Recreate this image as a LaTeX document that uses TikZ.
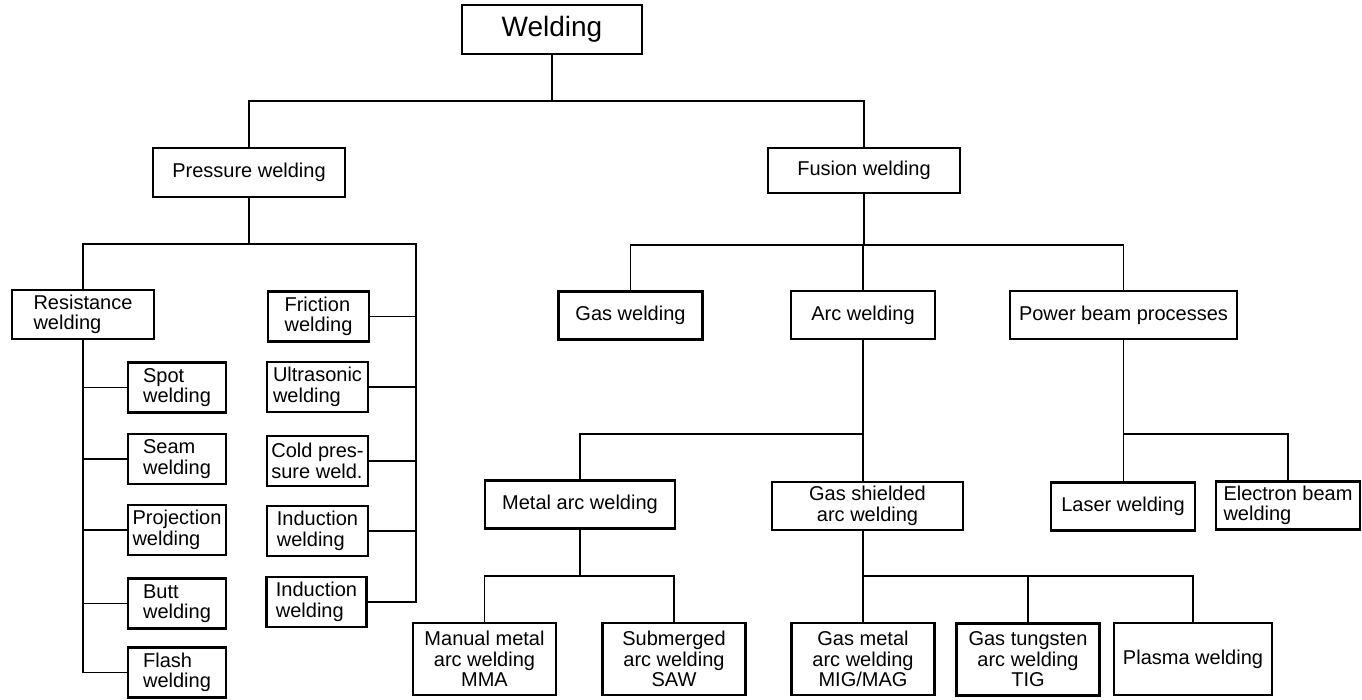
\documentclass[tikz,border=0pt]{standalone}
\usepackage{fontspec}
\setmainfont{Liberation Sans}
\usetikzlibrary{positioning}

\begin{document}
\begin{tikzpicture}[x=1pt,y=-1pt]
\tikzstyle{every node}=[draw,line width=2.1pt,inner sep=0pt,align=center,font=\fontsize{20}{20.5}\selectfont];
\tikzstyle{small}=[minimum width=98pt,minimum height=50pt,align=left];
\tikzstyle{mid}=[minimum width=144pt,minimum height=48pt];
\tikzstyle{low}=[minimum width=143pt,minimum height=72pt];
\tikzstyle{wire}=[line width=1.4pt];

\useasboundingbox (0,0) rectangle (1362,699);

% top levels
\node (w) at (552,29.5) [minimum width=180pt,minimum height=49pt,font=\fontsize{28}{30}\selectfont] {Welding};
\node (p) at (249,172.5) [minimum width=192pt,minimum height=49pt] {Pressure welding};
\node (f) at (864,170.5) [minimum width=192pt,minimum height=45pt] {Fusion welding};

% pressure welding
\node (r) at (83,314.5) [minimum width=142pt,minimum height=49pt,align=left] {Resistance\\welding};
\foreach \n/\y/\t in {1/387.5/Spot,2/459/Seam,3/530/Projection,4/603.5/Butt,5/672.5/Flash}
  \node[small] (r\n) at (177,\y) {\t\\welding};
\node[small,minimum width=101pt] (q1) at (318.5,316.5) {Friction\\welding};
\node[small,minimum width=101pt] (q2) at (317.5,387) {Ultrasonic\\welding};
\node[small,minimum width=101pt] (q3) at (317.5,461) {Cold pres-\\sure weld.};
\node[small,minimum width=101pt] (q4) at (317.5,531) {Induction\\welding};
\node[small,minimum width=100pt] (q5) at (316.5,602) {Induction\\welding};

% fusion welding
\node[mid] (g) at (630.5,315.5) {Gas welding};
\node[mid] (a) at (863,315) {Arc welding};
\node[mid,minimum width=227pt] (b) at (1123.5,315) {Power beam processes};
\node[mid,minimum width=190pt] (m) at (580,504.5) {Metal arc welding};
\node[mid,minimum width=191pt] (s) at (867.5,506) {Gas shielded\\arc welding};
\node[mid] (l) at (1123,506.5) {Laser welding};
\node[mid,align=left] (e) at (1288,505.5) {Electron beam\\welding};
\node[low] (m1) at (484.5,659) {Manual metal\\arc welding\\MMA};
\node[low] (m2) at (674,659) {Submerged\\arc welding\\SAW};
\node[low] (s1) at (863,659) {Gas metal\\arc welding\\MIG/MAG};
\node[low] (s2) at (1028,659.5) {Gas tungsten\\arc welding\\TIG};
\node[low,minimum width=158pt] (s3) at (1193,659) {Plasma welding};

% bus lines
\coordinate (b0) at (0,101);
\coordinate (b1) at (0,244);
\coordinate (b2) at (0,245);
\coordinate (b3) at (0,434);
\coordinate (b4) at (0,576);
\coordinate (qr) at (416,0);

\draw[wire] (w.south) -- (w.south |- b0)
  (p.north) |- (f.north |- b0) -- (f.north);

\draw[wire] (p.south) -- (p.south |- b1)
  (r.north) |- (qr |- b1) -- (qr |- q5.east) -- (q5.east);
\foreach \n in {1,...,4}
  \draw[wire] (q\n.east) -- (qr |- q\n.east);
\draw[wire] (r.south) -- (r.south |- r5.west) -- (r5.west);
\foreach \n in {1,...,4}
  \draw[wire] (r.south |- r\n.west) -- (r\n.west);

\draw[wire] (f.south) -- (f.south |- b2)
  (g.north) |- (b.north |- b2) -- (b.north)
  (a.north) -- (a.north |- b2);

\draw[wire] (a.south) -- (a.south |- s.north)
  (m.north) |- (a.south |- b3);
\draw[wire] (b.south) -- (b.south |- l.north)
  (e.north) |- (b.south |- b3);

\draw[wire] (m.south) -- (m.south |- b4)
  (m1.north) |- (m2.north |- b4) -- (m2.north);
\draw[wire] (s1.north |- s.south) -- (s1.north)
  (s1.north |- b4) -| (s3.north)
  (s2.north) -- (s2.north |- b4);
\end{tikzpicture}
\end{document}
